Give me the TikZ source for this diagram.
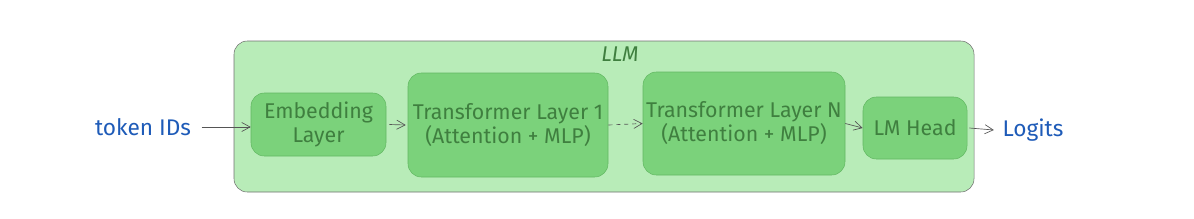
\documentclass[tikz,border=0pt]{standalone}
\usepackage{fontspec}
\setmainfont{Fira Sans}
\usepackage{tikz}
\usetikzlibrary{arrows.meta,calc,positioning}
\definecolor{LlmFill}{HTML}{B8ECB8}
\definecolor{LlmDraw}{HTML}{707070}
\definecolor{BlockFill}{HTML}{7BD27B}
\definecolor{BlockDraw}{HTML}{62B862}
\definecolor{BlockInk}{HTML}{3F7F3F}
\definecolor{IoBlue}{HTML}{1E5BB8}
\definecolor{ArrInk}{HTML}{555555}

\begin{document}
\begin{tikzpicture}[
      x=0.75pt,y=-0.75pt,
      font=\fontsize{16}{18}\selectfont,
      block/.style={draw=BlockDraw,fill=BlockFill,rounded corners=10pt,align=center,text=BlockInk,inner sep=0pt},
      io/.style={text=IoBlue,font=\fontsize{17}{18}\selectfont},
      arr/.style={-{Straight Barb[length=2.2mm,width=2.4mm]},ArrInk,line width=0.5pt}
    ]
      \useasboundingbox (0,0) rectangle (1194,218);
      \node[draw=LlmDraw,fill=LlmFill,rounded corners=10pt,minimum width=740*0.75pt,minimum height=151*0.75pt,inner sep=0pt] (llm) at (604,116.5) {};
      \node[text=BlockInk] (llmlabel) at (620,54) {\itshape LLM};
      \node[block,minimum width=135*0.75pt,minimum height=63*0.75pt] (embed) at (318.5,124.5) {Embedding\\Layer};
      \node[block,minimum width=200*0.75pt,minimum height=104*0.75pt] (tfirst) at (508,125) {Transformer Layer 1\\(Attention + MLP)};
      \node[block,minimum width=202*0.75pt,minimum height=103*0.75pt] (tlast) at (744,123.5) {Transformer Layer N\\(Attention + MLP)};
      \node[block,minimum width=104*0.75pt,minimum height=62*0.75pt] (head) at (915,128) {LM Head};
      \node[io] (tokens) at (143,127) {token IDs};
      \node[io] (logits) at (1033,130) {Logits};
      \draw[arr] (tokens.east) ++(6,0) coordinate (tokstart) -- (tokstart -| embed.west);
      \draw[arr] (embed.east) ++(3,0) -- ($(tfirst.west)+(-2,0)$);
      \draw[arr,dashed] (tfirst.east) -- (tlast.west);
      \draw[arr] (tlast.east) -- (head.west);
      \draw[arr] (head.east) ++(2,0) -- ($(logits.west)+(-4,0)$);
    \end{tikzpicture}
\end{document}
